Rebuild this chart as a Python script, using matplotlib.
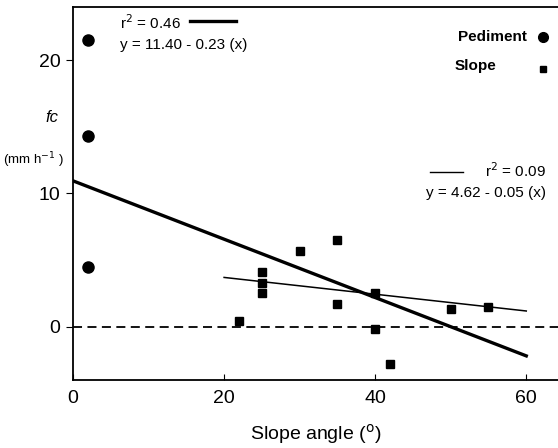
import numpy as np
import matplotlib.pyplot as plt
from matplotlib.lines import Line2D

plt.rcParams['font.family'] = ['Liberation Sans', 'DejaVu Sans']

# pediment points
ped_x = [2, 2, 2]
ped_y = [21.5, 14.3, 4.5]

# slope points
slope_x = [22, 25, 25, 25, 30, 35, 35, 40, 40, 42, 50, 55]
slope_y = [0.4, 4.1, 3.3, 2.5, 5.7, 6.5, 1.7, 2.5, -0.15, -2.8, 1.3, 1.5]

# fitted lines as drawn (intercept, slope, x range)
ped_fit = (10.95, -0.219, 0, 60)
slope_fit = (4.96, -0.063, 20, 60)

fig = plt.figure(figsize=(5.58, 4.48), dpi=100)
ax = fig.add_axes([73/558, 1 - 380/448, 1 - 73/558, 373/448])

ax.axhline(0, color='black', lw=1.3, ls=(0, (5, 3)))

xx = np.array(ped_fit[2:])
ax.plot(xx, ped_fit[0] + ped_fit[1] * xx, color='black', lw=2.4)
xx = np.array(slope_fit[2:])
ax.plot(xx, slope_fit[0] + slope_fit[1] * xx, color='black', lw=1.1)

ax.plot(ped_x, ped_y, 'o', color='black', ms=8)
ax.plot(slope_x, slope_y, 's', color='black', ms=5.5)

ax.set_xlim(0, 64.2)
ax.set_ylim(-4, 24)
ax.set_xticks([0, 20, 40, 60])
ax.set_yticks([0, 10, 20])
ax.tick_params(axis='x', direction='in', length=4, labelsize=14, pad=7)
ax.tick_params(axis='y', direction='out', length=5, labelsize=14, pad=4)
ax.spines['right'].set_visible(False)
for s in ['left', 'bottom', 'top']:
    ax.spines[s].set_linewidth(1.3)

ax.set_xlabel('Slope angle ($^{\\rm o}$)', fontsize=14, labelpad=11)

fig.text(45/558, 1 - 117/448, 'fc', fontsize=12, style='italic', ha='left', va='center')
fig.text(3/558, 1 - 160/448, '(mm h$^{-1}$ )', fontsize=9.5, ha='left', va='center')

# regression annotations
ta = ax.transAxes
def fx(px):
    return (px - 73) / (558 - 73)
def fy(py):
    return (380 - py) / 373

ax.text(fx(120), fy(23), 'r$^2$ = 0.46', fontsize=11, ha='left', va='center', transform=ta)
ax.add_line(Line2D([fx(190), fx(236)], [fy(21.5), fy(21.5)], color='black', lw=2.4, transform=ta))
ax.text(fx(120), fy(45), 'y = 11.40 - 0.23 (x)', fontsize=11, ha='left', va='center', transform=ta)

ax.add_line(Line2D([fx(430), fx(463)], [fy(172), fy(172)], color='black', lw=1.0, transform=ta))
ax.text(fx(546), fy(171), 'r$^2$ = 0.09', fontsize=11, ha='right', va='center', transform=ta)
ax.text(fx(546), fy(193), 'y = 4.62 - 0.05 (x)', fontsize=11, ha='right', va='center', transform=ta)

# legend
ax.text(fx(527), fy(37), 'Pediment', fontsize=11, fontweight='bold', ha='right', va='center', transform=ta)
ax.plot([fx(543)], [fy(37)], 'o', color='black', ms=7, transform=ta, clip_on=False)
ax.text(fx(455), fy(66), 'Slope', fontsize=11, fontweight='bold', ha='left', va='center', transform=ta)
ax.plot([fx(543)], [fy(69)], 's', color='black', ms=4, transform=ta, clip_on=False)

fig.savefig('out.png', dpi=100)
